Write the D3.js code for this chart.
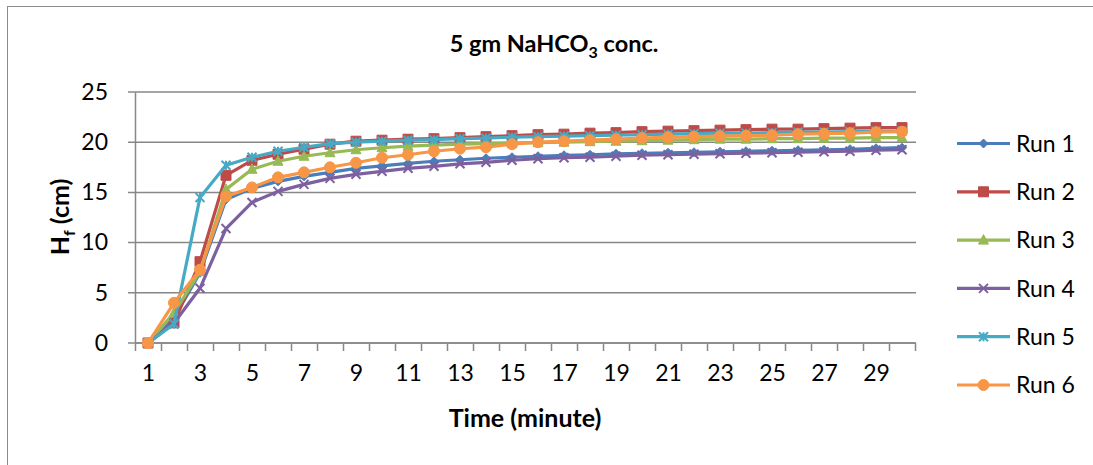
<!DOCTYPE html>
<html><head><meta charset="utf-8">
<script src="https://cdn.jsdelivr.net/npm/d3@7"></script>
<style>
body{margin:0;background:#fff;}
text{font-family:Lato,"Open Sans",sans-serif;}
</style></head>
<body><svg id="chart" width="1093" height="465"></svg>
<script>
const times = d3.range(1, 31);
const xTickLabels = [1,3,5,7,9,11,13,15,17,19,21,23,25,27,29];
const yTicks = [0,5,10,15,20,25];
const seriesNames = ["Run 1","Run 2","Run 3","Run 4","Run 5","Run 6"];
const run1 = [0,2.5,7.0,14.3,15.4,16.1,16.6,17.0,17.4,17.65,17.9,18.1,18.25,18.4,18.5,18.6,18.7,18.75,18.85,18.9,18.95,19.0,19.05,19.1,19.15,19.2,19.25,19.3,19.4,19.45];
const run2 = [0,2.0,8.1,16.7,18.2,18.8,19.3,19.8,20.1,20.2,20.3,20.35,20.45,20.55,20.65,20.75,20.8,20.9,20.95,21.05,21.1,21.15,21.2,21.25,21.3,21.3,21.35,21.4,21.45,21.45];
const run3 = [0,3.0,7.1,15.3,17.3,18.1,18.6,18.95,19.25,19.45,19.6,19.7,19.8,19.85,19.9,19.95,20.0,20.05,20.1,20.15,20.2,20.25,20.3,20.3,20.35,20.35,20.4,20.4,20.45,20.45];
const run4 = [0,2.0,5.45,11.4,14.0,15.1,15.8,16.4,16.8,17.1,17.4,17.6,17.85,18.0,18.2,18.35,18.45,18.5,18.6,18.7,18.75,18.8,18.85,18.9,18.95,19.0,19.05,19.1,19.2,19.25];
const run5 = [0,1.9,14.5,17.7,18.5,19.1,19.5,19.85,20.0,20.1,20.2,20.25,20.35,20.4,20.5,20.55,20.6,20.65,20.7,20.75,20.8,20.85,20.9,20.9,20.95,21.0,21.0,21.05,21.1,21.1];
const run6 = [0,4.0,7.3,14.6,15.5,16.5,17.0,17.5,17.95,18.45,18.75,19.1,19.35,19.5,19.8,20.0,20.1,20.2,20.3,20.4,20.5,20.55,20.6,20.65,20.7,20.8,20.85,20.9,21.0,21.05];
const colors = ["#4A7EBB","#BE4B48","#98B954","#7D60A0","#46AAC5","#F79646"];
const markers = ["diamond","square","triangle","x","star","circle"];

const runs = [run1,run2,run3,run4,run5,run6];
const svg = d3.select("#chart");

// outer border
svg.append("rect").attr("x",7.5).attr("y",6.5).attr("width",1100).attr("height",500)
  .attr("fill","none").attr("stroke","#8c8c8c").attr("stroke-width",1);

const L = 135, R = 915, T = 92, B = 343;
const x = d3.scaleLinear().domain([0.5, 30.5]).range([L, R]);
const y = d3.scaleLinear().domain([0, 25]).range([B, T]);
const gridCol = "#878787";

// gridlines
svg.append("g").selectAll("line").data(yTicks).join("line")
  .attr("x1", L-7).attr("x2", R+1).attr("y1", d=>y(d)).attr("y2", d=>y(d))
  .attr("stroke", gridCol).attr("stroke-width", 1.5);

// y axis
const yAxis = svg.append("g").attr("transform",`translate(${L},0)`)
  .call(d3.axisLeft(y).tickValues(yTicks).tickSize(0).tickPadding(27).tickFormat(d3.format("d")));
yAxis.select(".domain").attr("stroke", gridCol).attr("stroke-width",1.5);
yAxis.selectAll("text").attr("font-size",23).attr("fill","#000").attr("font-family","Lato");

// x axis ticks
const xAxis = svg.append("g").attr("transform",`translate(0,${B})`)
  .call(d3.axisBottom(x).tickValues(d3.range(0.5, 31, 1)).tickSize(8).tickFormat(""));
xAxis.select(".domain").attr("stroke", gridCol).attr("stroke-width",1.5).attr("d",`M${L},0H${R}`);
xAxis.selectAll("line").attr("stroke", gridCol).attr("stroke-width",1.5);
// x labels
const xLab = svg.append("g").attr("transform",`translate(0,${B})`)
  .call(d3.axisBottom(x).tickValues(xTickLabels).tickSize(0).tickPadding(22).tickFormat(d3.format("d")));
xLab.select(".domain").remove();
xLab.selectAll("text").attr("font-size",23).attr("fill","#000").attr("font-family","Lato");

// marker path generator
function markerPath(type, s){
  switch(type){
    case "diamond": return `M0,${-s}L${s},0L0,${s}L${-s},0Z`;
    case "square": return `M${-s},${-s}H${s}V${s}H${-s}Z`;
    case "triangle": return `M0,${-s*1.1}L${s},${s*0.8}L${-s},${s*0.8}Z`;
    case "x": return `M${-s},${-s}L${s},${s}M${-s},${s}L${s},${-s}`;
    case "star": return `M${-s},${-s}L${s},${s}M${-s},${s}L${s},${-s}M0,${-s}V${s}`;
    case "circle": return d3.symbol(d3.symbolCircle, Math.PI*s*s)();
  }
}
const mSize = [4.5,5,5,4.5,4.5,5.5];

const line = d3.line().x((d,i)=>x(times[i])).y(d=>y(d));
runs.forEach((vals, k) => {
  const g = svg.append("g");
  g.append("path").datum(vals).attr("d", line).attr("fill","none")
    .attr("stroke", colors[k]).attr("stroke-width", 3.2).attr("stroke-linejoin","round");
  const open = markers[k]==="x" || markers[k]==="star";
  g.selectAll("path.m").data(vals).join("path").attr("class","m")
    .attr("transform",(d,i)=>`translate(${x(times[i])},${y(d)})`)
    .attr("d", markerPath(markers[k], mSize[k]))
    .attr("fill", open ? "none" : colors[k])
    .attr("stroke", colors[k]).attr("stroke-width", open ? 2 : 1);
});

// legend
const legY = d3.scaleLinear().domain([0,5]).range([143.5, 385]);
const leg = svg.append("g");
seriesNames.forEach((n,k)=>{
  const yy = legY(k);
  leg.append("line").attr("x1",957).attr("x2",1010).attr("y1",yy).attr("y2",yy)
    .attr("stroke",colors[k]).attr("stroke-width",3.2);
  const open = markers[k]==="x" || markers[k]==="star";
  leg.append("path").attr("transform",`translate(983.5,${yy})`)
    .attr("d", markerPath(markers[k], mSize[k]))
    .attr("fill", open ? "none" : colors[k])
    .attr("stroke", colors[k]).attr("stroke-width", open ? 2 : 1);
  leg.append("text").attr("x",1016).attr("y",yy).attr("dy","0.36em")
    .attr("font-size",23).attr("fill","#000").text(n);
});

// title
const title = svg.append("text").attr("x",554).attr("y",52).attr("text-anchor","middle")
  .attr("font-size",23.5).attr("font-weight","bold").attr("fill","#000");
title.append("tspan").text("5 gm NaHCO");
title.append("tspan").attr("font-size",16).attr("dy",6).text("3");
title.append("tspan").attr("dy",-6).text(" conc.");

// x axis title
svg.append("text").attr("x",525).attr("y",427).attr("text-anchor","middle")
  .attr("font-size",25).attr("font-weight","bold").attr("fill","#000").text("Time (minute)");

// y axis title
const yt = svg.append("text").attr("transform","translate(69,217) rotate(-90)").attr("text-anchor","middle")
  .attr("font-size",25).attr("font-weight","bold").attr("fill","#000");
yt.append("tspan").text("H");
yt.append("tspan").attr("font-size",16).attr("dy",6).text("f");
yt.append("tspan").attr("dy",-6).text(" (cm)");
</script></body></html>
